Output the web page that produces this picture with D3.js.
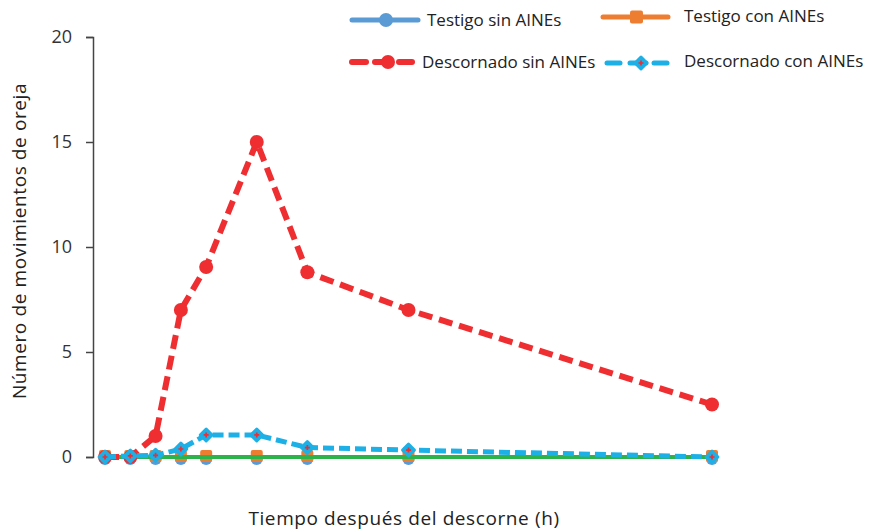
<!DOCTYPE html>
<html><head><meta charset="utf-8">
<script src="https://cdn.jsdelivr.net/npm/d3@7"></script>
<style>body{margin:0;background:#fff;} svg{font-family:"Open Sans",Lato,sans-serif;}</style>
</head><body><svg id="c" width="873" height="532"></svg>
<script>
const hours = [0, 0.5, 1, 1.5, 2, 3, 4, 6, 12];
const testigoSin = [0, 0, 0, 0, 0, 0, 0, 0, 0];
const testigoCon = [0, 0, 0, 0, 0, 0, 0, 0, 0];
const descornadoSin = [0, 0, 1, 7, 9.05, 15, 8.8, 7, 2.5];
const descornadoCon = [0, 0.05, 0.08, 0.38, 1.05, 1.05, 0.45, 0.33, 0];
const greenRef = [0, 0];
const yTicks = [0, 5, 10, 15, 20];
const labels = ["Testigo sin AINEs", "Testigo con AINEs", "Descornado sin AINEs", "Descornado con AINEs"];
const colors = ["#5b9bd5", "#ed7d31", "#ee2e31", "#1cb0e6"];

const svg = d3.select("#c");
const x = d3.scaleLinear().domain([0, 12]).range([105, 712]);
const y = d3.scaleLinear().domain([0, 20]).range([457, 37]);

// y axis
const ya = svg.append("g").attr("transform", "translate(93,0)")
  .call(d3.axisLeft(y).tickValues(yTicks).tickSize(7).tickPadding(14));
ya.select(".domain").attr("stroke", "#444").attr("stroke-width", 1.5);
ya.selectAll(".tick line").attr("stroke", "#444").attr("stroke-width", 1.5);
ya.selectAll(".tick text").attr("font-size", 18).attr("fill", "#333").attr("font-family", "Open Sans");

svg.append("text").attr("transform", "translate(26,241) rotate(-90)")
  .attr("text-anchor", "middle").attr("font-size", 19).attr("letter-spacing", 0.6).attr("fill", "#222")
  .text("Número de movimientos de oreja");
svg.append("text").attr("x", 404).attr("y", 525).attr("text-anchor", "middle")
  .attr("font-size", 19).attr("letter-spacing", 0.6).attr("fill", "#222").text("Tiempo después del descorne (h)");

const pts = arr => arr.map((v, i) => [x(hours[i]), y(v)]);
const line = d3.line();

// Testigo sin AINEs
svg.append("path").attr("d", line(pts(testigoSin))).attr("fill", "none")
  .attr("stroke", colors[0]).attr("stroke-width", 4);
svg.append("g").selectAll("circle").data(pts(testigoSin)).join("circle")
  .attr("cx", d => d[0]).attr("cy", d => d[1] + 2).attr("r", 6).attr("fill", colors[0]);

// Testigo con AINEs
svg.append("path").attr("d", line(pts(testigoCon))).attr("fill", "none")
  .attr("stroke", colors[1]).attr("stroke-width", 4);
svg.append("g").selectAll("rect").data(pts(testigoCon)).join("rect")
  .attr("x", d => d[0] - 6).attr("y", d => d[1] - 7).attr("width", 12).attr("height", 12)
  .attr("rx", 2).attr("fill", colors[1]);

// green reference line
svg.append("path").attr("d", line(greenRef.map((v, i) => [x(i * 12) + (i ? 6 : 0), y(v)])))
  .attr("stroke", "#2cb34a").attr("stroke-width", 4).attr("fill", "none");

// Descornado sin AINEs
svg.append("path").attr("d", line(pts(descornadoSin))).attr("fill", "none")
  .attr("stroke", colors[2]).attr("stroke-width", 6).attr("stroke-dasharray", "14,7");
svg.append("g").selectAll("circle").data(pts(descornadoSin)).join("circle")
  .attr("cx", d => d[0]).attr("cy", d => d[1]).attr("r", 7).attr("fill", colors[2]);

// Descornado con AINEs
svg.append("path").attr("d", line(pts(descornadoCon))).attr("fill", "none")
  .attr("stroke", colors[3]).attr("stroke-width", 5).attr("stroke-dasharray", "11,5");
const dia = d3.symbol().type(d3.symbolDiamond2).size(90);
const plus = d3.symbol().type(d3.symbolCross).size(14);
const g4 = svg.append("g").selectAll("g").data(pts(descornadoCon)).join("g")
  .attr("transform", d => `translate(${d[0]},${d[1]})`);
g4.append("path").attr("d", dia).attr("fill", colors[3]).attr("stroke", colors[3])
  .attr("stroke-width", 3).attr("stroke-linejoin", "round");
g4.append("path").attr("d", plus).attr("fill", colors[2]);

// legend
// Testigo sin
svg.append("line").attr("x1", 352).attr("x2", 418).attr("y1", 20).attr("y2", 20)
  .attr("stroke", colors[0]).attr("stroke-width", 5).attr("stroke-linecap", "round");
svg.append("circle").attr("cx", 386).attr("cy", 20).attr("r", 7).attr("fill", colors[0]);
// Testigo con
svg.append("line").attr("x1", 603).attr("x2", 668).attr("y1", 17).attr("y2", 17)
  .attr("stroke", colors[1]).attr("stroke-width", 5).attr("stroke-linecap", "round");
svg.append("rect").attr("x", 630).attr("y", 10.5).attr("width", 13).attr("height", 13).attr("rx", 2).attr("fill", colors[1]);
// Descornado sin
[[352, 366], [375, 389], [399, 412]].forEach(s => svg.append("line").attr("x1", s[0]).attr("x2", s[1])
  .attr("y1", 62).attr("y2", 62).attr("stroke", colors[2]).attr("stroke-width", 6).attr("stroke-linecap", "round"));
svg.append("circle").attr("cx", 388).attr("cy", 62).attr("r", 7).attr("fill", colors[2]);
// Descornado con
[[607, 620], [630, 646], [654, 667]].forEach(s => svg.append("line").attr("x1", s[0]).attr("x2", s[1])
  .attr("y1", 63).attr("y2", 63).attr("stroke", colors[3]).attr("stroke-width", 5).attr("stroke-linecap", "round"));
svg.append("path").attr("d", dia).attr("transform", "translate(641,63)").attr("fill", colors[3])
  .attr("stroke", colors[3]).attr("stroke-width", 3).attr("stroke-linejoin", "round");
svg.append("path").attr("d", plus).attr("transform", "translate(641,63)").attr("fill", colors[2]);

const legT = [[427, 20, 0], [684, 16, 1], [422, 62, 2], [684, 61, 3]];
legT.forEach(t => svg.append("text").attr("x", t[0]).attr("y", t[1]).attr("dy", "0.35em")
  .attr("font-size", 17).attr("fill", "#222").text(labels[t[2]]));
</script></body></html>
